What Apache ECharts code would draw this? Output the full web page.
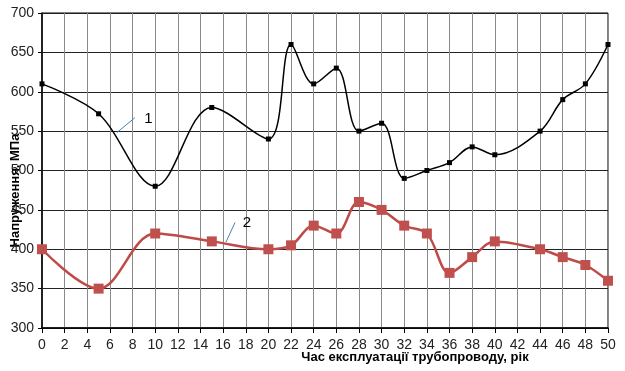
<!DOCTYPE html>
<html><head><meta charset="utf-8">
<script src="https://cdn.jsdelivr.net/npm/echarts@6/dist/echarts.min.js"></script>
<style>html,body{margin:0;padding:0;background:#fff}#c{width:625px;height:371px}</style>
</head><body><div id="c"></div>
<script>
const years1 = [0, 5, 10, 15, 20, 22, 24, 26, 28, 30, 32, 34, 36, 38, 40, 44, 46, 48, 50];
const stress1 = [610, 572, 480, 580, 540, 660, 610, 630, 550, 560, 490, 500, 510, 530, 520, 550, 590, 610, 660];
const years2 = [0, 5, 10, 15, 20, 22, 24, 26, 28, 30, 32, 34, 36, 38, 40, 44, 46, 48, 50];
const stress2 = [400, 350, 420, 410, 400, 405, 430, 420, 460, 450, 430, 420, 370, 390, 410, 400, 390, 380, 360];
const xTitle = 'Час експлуатації трубопроводу, рік';
const yTitle = 'Напруження, МПа';
const note1 = {label: '1', from: [6.6, 548], to: [8.2, 567], at: [9.4, 566]};
const note2 = {label: '2', from: [16.25, 409], to: [17.05, 434], at: [18.1, 433]};

const font = 'Liberation Sans, Arial, sans-serif';
const chart = echarts.init(document.getElementById('c'));
function noteLine(n) {
  return {
    silent: true, symbol: 'none',
    lineStyle: {color: '#4a7ebb', width: 1, type: 'solid'},
    label: {show: false},
    data: [[{coord: n.from}, {coord: n.to}]]
  };
}
function notePoint(n) {
  return {
    silent: true, symbol: 'circle', symbolSize: 1,
    itemStyle: {color: 'rgba(0,0,0,0)'},
    label: {show: true, position: 'inside', formatter: n.label, color: '#000', fontSize: 15, fontFamily: font},
    data: [{coord: n.at}]
  };
}
chart.setOption({
  animation: false,
  grid: {left: 42, right: 17, top: 13, bottom: 43, containLabel: false, outerBoundsMode: 'none',
         show: true, borderColor: '#000', borderWidth: 1},
  xAxis: {
    type: 'value', min: 0, max: 50, interval: 2,
    name: xTitle, nameLocation: 'middle', nameGap: 23, nameMoveOverlap: false,
    nameTextStyle: {fontFamily: font, fontSize: 13, fontWeight: 'bold', color: '#000', padding: [0, 0, 0, 180]},
    axisLine: {lineStyle: {color: '#000', width: 1.5}},
    axisTick: {show: true, length: 5, lineStyle: {color: '#000'}},
    axisLabel: {fontFamily: font, fontSize: 14, color: '#222', margin: 10},
    splitLine: {show: true, lineStyle: {color: '#8a8a8a', width: 1}}
  },
  yAxis: {
    type: 'value', min: 300, max: 700, interval: 50,
    name: yTitle, nameLocation: 'middle', nameGap: 20, nameRotate: 90, nameMoveOverlap: false,
    nameTextStyle: {fontFamily: font, fontSize: 13, fontWeight: 'bold', color: '#000', padding: [0, 40, 0, 0]},
    axisLine: {show: true, lineStyle: {color: '#000', width: 1.5}},
    axisTick: {show: true, length: 4, lineStyle: {color: '#000'}},
    axisLabel: {fontFamily: font, fontSize: 14, color: '#222', margin: 8},
    splitLine: {show: true, lineStyle: {color: '#222', width: 1}}
  },
  series: [
    {
      type: 'line', smooth: 0.35,
      data: years1.map((x, i) => [x, stress1[i]]),
      symbol: 'rect', symbolSize: 5,
      itemStyle: {color: '#000'},
      lineStyle: {color: '#000', width: 1.5},
      z: 3,
      markLine: noteLine(note1),
      markPoint: notePoint(note1)
    },
    {
      type: 'line', smooth: 0.35,
      data: years2.map((x, i) => [x, stress2[i]]),
      symbol: 'rect', symbolSize: 10,
      itemStyle: {color: '#c0504d'},
      lineStyle: {color: '#be4b48', width: 2.5},
      z: 4,
      markLine: noteLine(note2),
      markPoint: notePoint(note2)
    }
  ]
});
</script></body></html>
